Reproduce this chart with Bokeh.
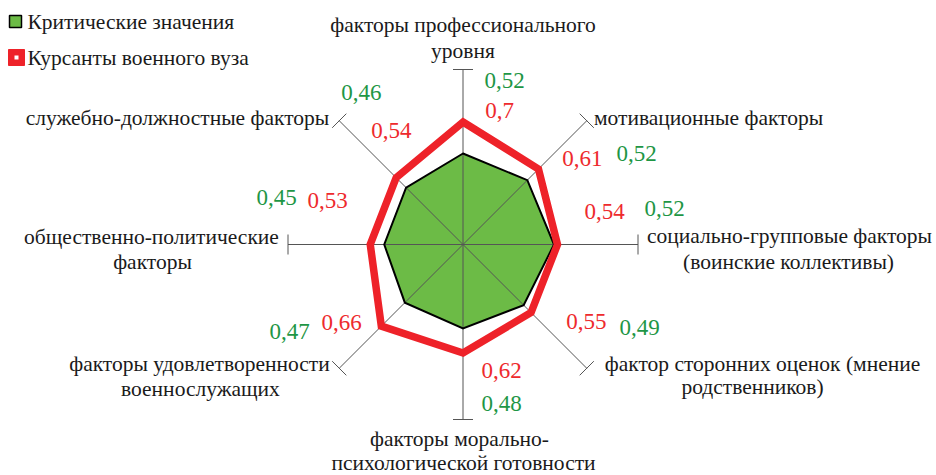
import math
from bokeh.plotting import figure
from bokeh.models import Range1d, ColumnDataSource
from bokeh.core.properties import value
from bokeh.embed import file_html
from bokeh.resources import INLINE

# ---------------- data ----------------
categories = [
    ["факторы профессионального", "уровня"],
    ["мотивационные факторы"],
    ["социально-групповые факторы", "(воинские коллективы)"],
    ["фактор сторонних оценок (мнение", "родственников)"],
    ["факторы морально-", "психологической готовности"],
    ["факторы удовлетворенности", "военнослужащих"],
    ["общественно-политические", "факторы"],
    ["служебно-должностные факторы"],
]
critical = [0.52, 0.52, 0.52, 0.49, 0.48, 0.47, 0.45, 0.46]
cadets = [0.70, 0.61, 0.54, 0.55, 0.62, 0.66, 0.53, 0.54]
series_names = ["Критические значения", "Курсанты военного вуза"]
axis_max = 1.0

# ---------------- layout / style ----------------
W, H = 936, 475
CX, CY = 462.5, 244.0          # radar centre in page pixels
R = 175.0                      # axis length in px
FONT = "Liberation Serif"
GREEN_FILL = "#6cbb46"
GREEN_TXT = "#1e9645"
RED = "#ee2229"
RED_TXT = "#ee2a2d"
AXIS_C = "#555555"

p = figure(width=W, height=H, output_backend="svg", toolbar_location=None,
           x_axis_type=None, y_axis_type=None, min_border=0,
           x_range=Range1d(-CX, W - CX), y_range=Range1d(CY - H, CY))
p.outline_line_color = None
p.grid.visible = False
p.background_fill_color = "white"
p.border_fill_color = "white"

n = len(critical)
ang = [math.pi / 2 - i * 2 * math.pi / n for i in range(n)]


def pt(v, i):
    r = v / axis_max * R
    return r * math.cos(ang[i]), r * math.sin(ang[i])


# green area
gx = [pt(v, i)[0] for i, v in enumerate(critical)]
gy = [pt(v, i)[1] for i, v in enumerate(critical)]
p.patch(gx, gy, fill_color=GREEN_FILL, line_color=None)

# axes with end caps
cap = 10.0
for i in range(n):
    ex, ey = pt(axis_max, i)
    p.line([0, ex], [0, ey], line_color=AXIS_C, line_width=1)
    px_, py_ = -math.sin(ang[i]), math.cos(ang[i])
    p.line([ex - cap * px_, ex + cap * px_], [ey - cap * py_, ey + cap * py_],
           line_color=AXIS_C, line_width=1)

p.patch(gx, gy, fill_color=None, line_color="black", line_width=2, line_join="miter")

# red series
rx = [pt(v, i)[0] for i, v in enumerate(cadets)]
ry = [pt(v, i)[1] for i, v in enumerate(cadets)]
p.patch(rx, ry, fill_color=None, line_color=RED, line_width=7.5, line_join="miter")


def fmt(v):
    s = ("%.2f" % v).rstrip("0").rstrip(".")
    return s.replace(".", ",")


# value labels: offsets (page px, y down) from their data point
red_off = [(36.5, -11.5), (44, -10.5), (47, -33), (55.4, 8.9),
           (38.5, 17.5), (-39.8, -3.7), (-42.75, -44), (-4.7, -47.2)]
green_off = [(41.5, -73), (109.2, -26.7), (110.5, -36), (115.9, 22.4),
             (38.5, 75), (-115.3, 28.8), (-107.75, -47), (-44.6, -95.1)]


def label_src(vals, offs):
    xs, ys, ts = [], [], []
    for i, v in enumerate(vals):
        x, y = pt(v, i)
        xs.append(x + offs[i][0])
        ys.append(y - offs[i][1])
        ts.append(fmt(v))
    return ColumnDataSource(dict(x=xs, y=ys, t=ts))


p.text(x="x", y="y", text="t", source=label_src(cadets, red_off),
       text_font=value(FONT), text_font_size="23px", text_color=RED_TXT,
       text_align="center", text_baseline="middle")
p.text(x="x", y="y", text="t", source=label_src(critical, green_off),
       text_font=value(FONT), text_font_size="23px", text_color=GREEN_TXT,
       text_align="center", text_baseline="middle")

# category labels: per-line offsets (page px) from axis end
cat_off = [
    [(0, -45), (0, -19)],
    [(121.8, -2.3)],
    [(151.5, -9), (150.5, 17)],
    [(175.8, -4.7), (165.8, 18.3)],
    [(-3.5, 19), (0.5, 43)],
    [(-139.8, -4.7), (-138.8, 20.3)],
    [(-136.5, -8), (-135.5, 17)],
    [(-161.8, -2.3)],
]
cxs, cys, cts = [], [], []
for i, lines in enumerate(categories):
    ex, ey = pt(axis_max, i)
    for j, line in enumerate(lines):
        dx, dy = cat_off[i][j]
        cxs.append(ex + dx)
        cys.append(ey - dy)
        cts.append(line)
p.text(x=cxs, y=cys, text=cts, text_font=value(FONT), text_font_size="21.5px",
       text_color="#1a1a1a", text_align="center", text_baseline="middle")

# legend (drawn manually)
lx = 15 - CX
ly1 = CY - 21
ly2 = CY - 57
p.scatter([lx], [ly1], marker="square", size=12, fill_color=GREEN_FILL,
          line_color="black", line_width=1.5)
p.scatter([lx + 1], [ly2], marker="square", size=16, fill_color=RED,
          line_color=RED, line_width=1)
p.scatter([lx + 1], [ly2], marker="square", size=4, fill_color="white",
          line_color=None)
p.text(x=[27 - CX, 27 - CX], y=[ly1, ly2], text=series_names,
       text_font=value(FONT), text_font_size="21.5px", text_color="#1a1a1a",
       text_align="left", text_baseline="middle")

open("out.html", "w").write(file_html(p, INLINE))
